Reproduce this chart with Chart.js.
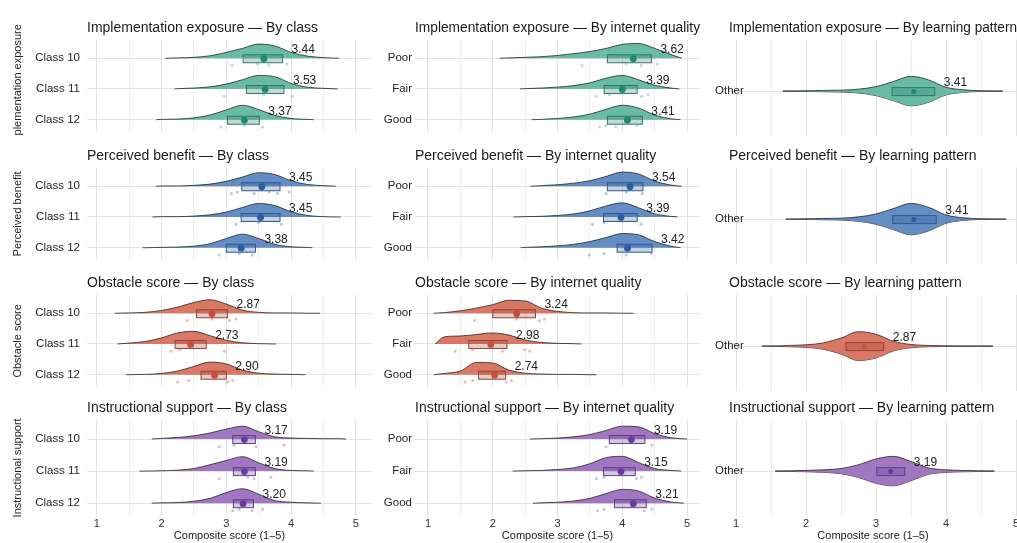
<!DOCTYPE html>
<html lang="en">
<head>
    <meta charset="UTF-8">
    <title>Composite scores by group</title>
    <script src="https://cdn.jsdelivr.net/npm/chart.js"></script>
    <style>
        body {
            margin: 0;
            width: 1017px;
            height: 543px;
            overflow: hidden;
            position: relative;
            background: #ffffff;
        }
        canvas {
            position: absolute;
        }
    </style>
</head>
<body>
    <script>
        // ---- data ----
        const measures = ['Implementation exposure', 'Perceived benefit', 'Obstacle score', 'Instructional support'];
        const facets = ['By class', 'By internet quality', 'By learning pattern'];
        const classGroups = ['Class 10', 'Class 11', 'Class 12'];
        const internetGroups = ['Poor', 'Fair', 'Good'];
        const patternGroups = ['Other'];
        const xTickValues = [1, 1.5, 2, 2.5, 3, 3.5, 4, 4.5, 5];
        const axisTitle = 'Composite score (1–5)';

        // x positions where the density heights below were read
        const densityX = [1, 1.25, 1.5, 1.75, 2, 2.25, 2.5, 2.75, 3, 3.25, 3.5, 3.75, 4, 4.25, 4.5, 4.75, 5];

        // group means printed next to each box  [measure][facet][group]
        const meanLabels = [
            [[3.44, 3.53, 3.37], [3.62, 3.39, 3.41], [3.41]],
            [[3.45, 3.45, 3.38], [3.54, 3.39, 3.42], [3.41]],
            [[2.87, 2.73, 2.90], [3.24, 2.98, 2.74], [2.87]],
            [[3.17, 3.19, 3.20], [3.19, 3.15, 3.21], [3.19]]
        ];
        const boxQ1 = [
            [[3.26, 3.31, 3.02], [3.77, 3.72, 3.77], [3.23]],
            [[3.24, 3.23, 3.00], [3.77, 3.71, 3.92], [3.24]],
            [[2.54, 2.21, 2.61], [2.00, 1.63, 1.78], [2.57]],
            [[3.10, 3.11, 3.11], [3.80, 3.71, 3.88], [3.01]]
        ];
        const boxQ3 = [
            [[3.87, 3.89, 3.51], [4.45, 4.23, 4.31], [3.84]],
            [[3.83, 3.83, 3.45], [4.32, 4.23, 4.46], [3.86]],
            [[3.02, 2.69, 3.00], [2.66, 2.22, 2.20], [3.11]],
            [[3.45, 3.45, 3.42], [4.35, 4.20, 4.37], [3.41]]
        ];
        const centreDots = [
            [[3.58, 3.60, 3.28], [4.17, 4.00, 4.08], [3.54]],
            [[3.55, 3.53, 3.23], [4.12, 3.98, 4.08], [3.54]],
            [[2.78, 2.45, 2.82], [2.37, 1.97, 2.03], [2.83]],
            [[3.28, 3.28, 3.26], [4.14, 3.98, 4.17], [3.21]]
        ];
        // where each density tail starts and ends
        const tailLow = [
            [[2.06, 2.20, 1.92], [2.11, 2.42, 2.60], [1.67]],
            [[1.91, 1.86, 1.71], [2.58, 2.32, 2.43], [1.71]],
            [[1.28, 1.32, 1.46], [1.09, 1.11, 1.09], [1.37]],
            [[1.85, 1.66, 1.85], [2.57, 2.31, 2.62], [1.56]]
        ];
        const tailHigh = [
            [[4.74, 4.72, 4.35], [4.92, 4.88, 4.90], [4.81]],
            [[4.69, 4.77, 4.33], [4.92, 4.85, 4.90], [4.86]],
            [[4.45, 3.77, 4.22], [4.17, 3.37, 3.60], [4.67]],
            [[4.85, 4.35, 4.46], [5.00, 4.91, 4.95], [4.69]]
        ];

        // density heights (category units) at densityX
        const densImplementation = [
            [[0, 0, 0, 0, 0, .01, .03, .08, .19, .32, .46, .40, .19, .07, .02, 0, 0],
             [0, 0, 0, 0, 0, .01, .03, .07, .16, .30, .44, .40, .18, .06, .02, 0, 0],
             [0, 0, 0, 0, .01, .02, .06, .15, .32, .47, .33, .14, .04, .01, 0, 0, 0]],
            [[0, 0, 0, 0, 0, .01, .03, .05, .09, .15, .22, .32, .45, .48, .32, .12, 0],
             [0, 0, 0, 0, 0, 0, .01, .03, .06, .11, .20, .35, .44, .30, .12, .03, 0],
             [0, 0, 0, 0, 0, 0, 0, .01, .04, .09, .18, .34, .47, .38, .15, .03, 0]],
            [[0, 0, 0, 0, .01, .02, .03, .06, .14, .30, .46, .35, .12, .04, .01, 0, 0]]
        ];
        const densBenefit = [
            [[0, 0, 0, 0, .01, .01, .03, .07, .16, .30, .44, .38, .18, .06, .02, 0, 0],
             [0, 0, 0, 0, .01, .01, .03, .07, .16, .31, .44, .37, .17, .05, .01, 0, 0],
             [0, 0, 0, 0, .01, .02, .05, .13, .30, .44, .30, .11, .03, .01, 0, 0, 0]],
            [[0, 0, 0, 0, 0, 0, 0, .02, .05, .10, .18, .32, .46, .40, .17, .04, 0],
             [0, 0, 0, 0, 0, 0, .01, .02, .05, .10, .20, .36, .46, .30, .10, .02, 0],
             [0, 0, 0, 0, 0, 0, .01, .03, .06, .11, .20, .33, .46, .42, .20, .05, 0]],
            [[0, 0, 0, 0, .01, .02, .03, .07, .16, .33, .49, .37, .13, .04, .01, 0, 0]]
        ];
        const densObstacle = [
            [[0, 0, .01, .03, .09, .20, .35, .44, .30, .10, .03, .01, .01, 0, 0, 0, 0],
             [0, 0, .03, .08, .20, .36, .41, .27, .12, .04, .01, 0, 0, 0, 0, 0, 0],
             [0, 0, 0, .01, .04, .12, .27, .41, .35, .15, .05, .02, .01, 0, 0, 0, 0]],
            [[0, .02, .08, .17, .28, .42, .40, .17, .06, .02, .01, .01, 0, 0, 0, 0, 0],
             [0, .23, .26, .31, .36, .29, .13, .05, .02, .01, 0, 0, 0, 0, 0, 0, 0],
             [0, .04, .12, .40, .38, .15, .05, .02, .01, .01, 0, 0, 0, 0, 0, 0, 0]],
            [[0, 0, 0, .02, .04, .10, .25, .45, .37, .15, .05, .02, .01, 0, 0, 0, 0]]
        ];
        const densSupport = [
            [[0, 0, 0, 0, .02, .05, .10, .19, .31, .40, .23, .07, .03, .02, .01, .01, 0],
             [0, 0, 0, 0, .01, .03, .08, .20, .33, .45, .26, .08, .02, .01, 0, 0, 0],
             [0, 0, 0, 0, .01, .02, .06, .15, .33, .45, .28, .08, .03, .01, 0, 0, 0]],
            [[0, 0, 0, 0, 0, 0, 0, .01, .03, .07, .14, .27, .40, .38, .17, .04, 0],
             [0, 0, 0, 0, 0, 0, .01, .02, .05, .10, .23, .42, .46, .27, .08, .02, 0],
             [0, 0, 0, 0, 0, 0, 0, .01, .03, .07, .15, .30, .43, .38, .16, .04, 0]],
            [[0, 0, 0, .01, .02, .04, .08, .20, .38, .46, .30, .10, .04, .02, .01, 0, 0]]
        ];

        // raw responses shown as small dots under the boxes
        const rawPoints = [
            [[[3.09, 3.48, 3.66, 3.94], [2.97, 3.58, 4.02], [2.92, 3.28, 3.56]],
             [[3.38, 4.06, 4.29, 4.54], [3.60, 3.80, 4.30, 4.40], [3.65, 3.75, 3.90, 4.23]], [[]]],
            [[[3.08, 3.17, 3.43, 3.66, 3.79, 3.97], [3.15, 3.50, 3.85], [2.89, 3.20, 3.40]],
             [[3.75, 4.06, 4.31], [3.54, 3.72, 4.29], [3.49, 3.72, 4.06, 4.45]], [[]]],
            [[[2.40, 2.78, 3.05, 3.15], [2.15, 2.28, 2.97], [2.25, 2.42, 3.02, 3.10]],
             [[1.72, 2.37, 2.72, 2.80], [1.42, 1.69, 2.15, 2.49, 2.57], [1.57, 1.69, 2.21, 2.29]], [[]]],
            [[[2.89, 3.12, 3.46, 3.89], [2.89, 3.33, 3.43, 3.69], [3.10, 3.20, 3.40, 3.56]],
             [[3.75, 4.46], [3.60, 3.72, 4.22, 4.30], [3.62, 3.72, 4.34, 4.46]], [[]]]
        ];

        // ---- styling / layout ----
        const facetGroups = [classGroups, internetGroups, patternGroups];
        const densityByMeasure = [densImplementation, densBenefit, densObstacle, densSupport];
        const fillColours = ['#5db59d', '#5783bf', '#d66c58', '#9a6bbd'];
        const boxColours = ['#2c7a66', '#2e5a94', '#9c4334', '#62408c'];
        const dotColours = ['#1e8a6c', '#2b5ca4', '#c64f3d', '#6a3b9e'];
        const outlineColour = 'rgba(40, 40, 40, 0.9)';

        const columns = [
            { left: 0, width: 376, axisWidth: 87, padRight: 3, tickPad: 7, mirror: false, xMin: 0.85, xMax: 5.25 },
            { left: 376, width: 328, axisWidth: 39, padRight: 3, tickPad: 3, mirror: false, xMin: 0.8, xMax: 5.2 },
            { left: 704, width: 313, axisWidth: 25, padRight: 0, tickPad: -14, mirror: true, xMin: 0.9, xMax: 5.014 }
        ];
        const rowChartTop = [40, 168, 295, 420];

        Chart.defaults.font.family = "'Liberation Sans', Arial, Helvetica, sans-serif";
        Chart.defaults.color = '#222222';

        function withAlpha(hex, a) {
            const n = parseInt(hex.slice(1), 16);
            return `rgba(${(n >> 16) & 255}, ${(n >> 8) & 255}, ${n & 255}, ${a})`;
        }

        function outline(lo, hi, dens, pos, dir) {
            let pts = [{ x: lo, y: pos }];
            densityX.forEach((gx, k) => {
                if (gx > lo && gx < hi) pts.push({ x: gx, y: pos + dir * dens[k] });
            });
            pts.push({ x: hi, y: pos });
            return pts;
        }

        function buildPanel(m, f) {
            const col = columns[f];
            const isBottom = m === measures.length - 1;
            const top = rowChartTop[m] - 28;
            const height = 28 + 96 + (isBottom ? 27 : 0);

            const canvas = document.createElement('canvas');
            canvas.width = col.width;
            canvas.height = height;
            canvas.style.left = col.left + 'px';
            canvas.style.top = top + 'px';
            canvas.style.width = col.width + 'px';
            canvas.style.height = height + 'px';
            document.body.appendChild(canvas);

            const groups = facetGroups[f];
            const positions = f === 2 ? [1] : [0, 1, 2];
            const dens = densityByMeasure[m][f];
            let datasets = [];

            groups.forEach((g, gi) => {
                const p = positions[gi];
                const lo = tailLow[m][f][gi], hi = tailHigh[m][f][gi];
                const base = {
                    type: 'line',
                    showLine: true,
                    pointRadius: 0,
                    borderColor: outlineColour,
                    borderWidth: 0.9,
                    backgroundColor: withAlpha(fillColours[m], 0.92),
                    cubicInterpolationMode: 'monotone',
                    order: 2
                };
                if (f === 2) {
                    datasets.push({ ...base, label: g + ' upper', data: outline(lo, hi, dens[gi], p, -1), fill: '+1' });
                    datasets.push({ ...base, label: g + ' lower', data: outline(lo, hi, dens[gi], p, 1), fill: false });
                } else {
                    datasets.push({ ...base, label: g, data: outline(lo, hi, dens[gi], p, -1), fill: { value: p } });
                }
            });

            groups.forEach((g, gi) => {
                const pts = rawPoints[m][f][gi] || [];
                if (!pts.length) return;
                datasets.push({
                    type: 'scatter',
                    label: g + ' responses',
                    data: pts.map((v, k) => ({ x: v, y: positions[gi] + (k % 2 ? 0.19 : 0.24) })),
                    pointRadius: 1.5,
                    pointBorderWidth: 0,
                    backgroundColor: withAlpha(fillColours[m], 0.45),
                    order: 1
                });
            });

            const summaryPlugin = {
                id: 'summary',
                afterDatasetsDraw(chart) {
                    const ctx = chart.ctx;
                    const xs = chart.scales.x, ys = chart.scales.y;
                    ctx.save();
                    groups.forEach((g, gi) => {
                        const yc = ys.getPixelForValue(positions[gi]);
                        const x1 = xs.getPixelForValue(boxQ1[m][f][gi]);
                        const x2 = xs.getPixelForValue(boxQ3[m][f][gi]);
                        ctx.fillStyle = withAlpha(boxColours[m], 0.28);
                        ctx.fillRect(x1, yc - 3.5, x2 - x1, 8);
                        ctx.lineWidth = 1;
                        ctx.strokeStyle = boxColours[m];
                        ctx.strokeRect(x1, yc - 3.5, x2 - x1, 8);

                        ctx.beginPath();
                        ctx.arc(xs.getPixelForValue(centreDots[m][f][gi]), yc + 0.5, f === 2 ? 2.5 : 3.4, 0, Math.PI * 2);
                        ctx.fillStyle = dotColours[m];
                        ctx.fill();

                        ctx.font = "12px 'Liberation Sans', Arial, sans-serif";
                        ctx.fillStyle = '#222222';
                        ctx.textAlign = 'left';
                        ctx.textBaseline = 'middle';
                        ctx.fillText(meanLabels[m][f][gi].toFixed(2), x2 + 9, yc - 8.5);
                    });
                    ctx.restore();
                }
            };

            new Chart(canvas, {
                type: 'scatter',
                data: { datasets: datasets },
                options: {
                    responsive: false,
                    maintainAspectRatio: false,
                    animation: false,
                    layout: { padding: { left: 0, right: col.padRight, top: 0, bottom: 0 } },
                    plugins: {
                        legend: { display: false },
                        tooltip: { enabled: false },
                        title: {
                            display: true,
                            text: measures[m] + ' — ' + facets[f],
                            align: 'start',
                            fullSize: false,
                            font: { size: 14, weight: 'normal' },
                            color: '#1a1a1a',
                            padding: { top: 8, bottom: 3 }
                        }
                    },
                    scales: {
                        x: {
                            type: 'linear',
                            min: col.xMin,
                            max: col.xMax,
                            afterBuildTicks: s => { s.ticks = xTickValues.map(v => ({ value: v })); },
                            afterFit: s => {
                                s.height = isBottom ? 27 : 0;
                                s.paddingLeft = 0;
                                s.paddingRight = 0;
                            },
                            border: { display: false },
                            grid: {
                                drawTicks: false,
                                color: c => Number.isInteger(c.tick.value) ? '#e1e1e1' : '#eeeeee'
                            },
                            ticks: {
                                display: isBottom,
                                autoSkip: false,
                                maxRotation: 0,
                                padding: 1,
                                font: { size: 11 },
                                color: '#333333',
                                callback: v => Number.isInteger(v) ? v : ''
                            },
                            title: {
                                display: isBottom,
                                text: axisTitle,
                                font: { size: 11 },
                                color: '#222222',
                                padding: { top: 0, bottom: 0 }
                            }
                        },
                        y: {
                            type: 'linear',
                            reverse: true,
                            min: -0.6,
                            max: 2.4,
                            afterBuildTicks: s => { s.ticks = positions.map(v => ({ value: v })); },
                            afterFit: s => {
                                s.width = col.axisWidth;
                                s.paddingTop = 0;
                                s.paddingBottom = 0;
                            },
                            border: { display: false },
                            grid: { drawTicks: false, color: '#e4e4e4' },
                            ticks: {
                                autoSkip: false,
                                mirror: col.mirror,
                                padding: col.tickPad,
                                font: { size: 11.5 },
                                color: '#1e1e1e',
                                callback: v => groups[positions.indexOf(v)]
                            },
                            title: {
                                display: f === 0,
                                text: measures[m],
                                font: { size: 11 },
                                color: '#1e1e1e',
                                padding: { top: 11.5, bottom: 0 }
                            }
                        }
                    }
                },
                plugins: [summaryPlugin]
            });
        }

        measures.forEach((measure, m) => {
            facets.forEach((facet, f) => buildPanel(m, f));
        });
    </script>
</body>
</html>
